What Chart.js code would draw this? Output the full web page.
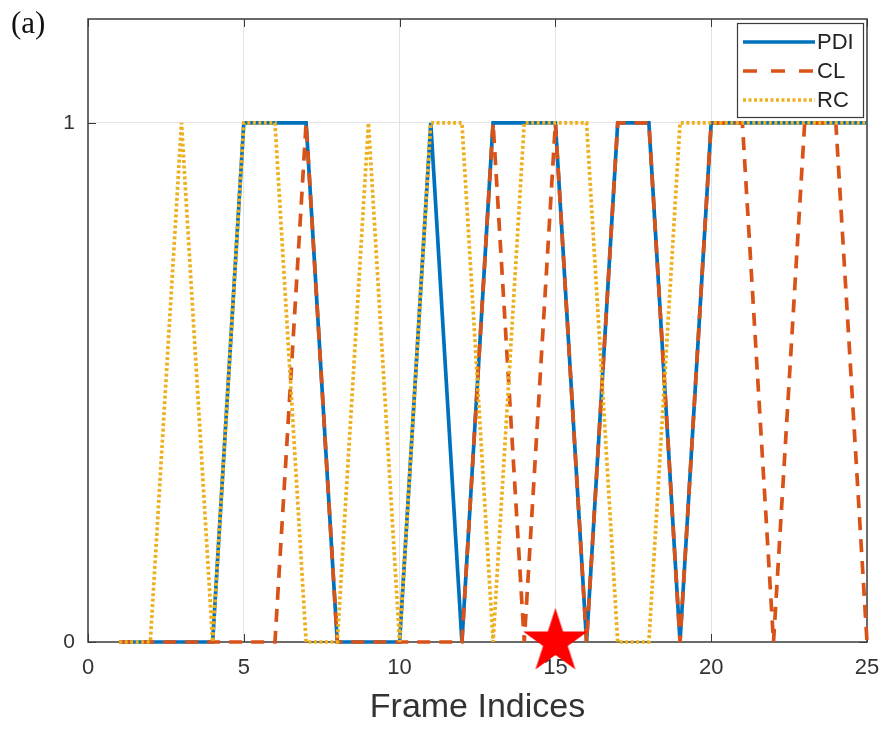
<!DOCTYPE html>
<html>
<head>
<meta charset="utf-8">
<script src="https://cdn.jsdelivr.net/npm/chart.js@4/dist/chart.umd.min.js"></script>
<style>
  html, body { margin: 0; padding: 0; background: #ffffff; }
  #wrap { width: 888px; height: 730px; }
</style>
</head>
<body>
<div id="wrap"><canvas id="c" width="888" height="730"></canvas></div>
<script>
// ---- data ----
const FRAMES = [1,2,3,4,5,6,7,8,9,10,11,12,13,14,15,16,17,18,19,20,21,22,23,24,25];
const PDI = [0,0,0,0,1,1,1,0,0,0,1,0,1,1,1,0,1,1,0,1,1,1,1,1,1];
const CL  = [0,0,0,0,0,0,1,0,0,0,0,0,1,0,1,0,1,1,0,1,1,0,1,1,0];
const RC  = [0,0,1,0,1,1,0,0,1,0,1,1,0,1,1,1,0,0,1,1,1,1,1,1,1];
const SERIES_NAMES = ['PDI', 'CL', 'RC'];
const STAR_X = [15];
const STAR_Y = [0];
const X_TICKS = [0, 5, 10, 15, 20, 25];
const Y_TICKS = [0, 1];
const X_TITLE = 'Frame Indices';
const PANEL_LABEL = '(a)';

const toPts = (ys) => FRAMES.map((f, i) => ({ x: f, y: ys[i] }));

// star marker image
function makeStar(r, color) {
  const c = document.createElement('canvas');
  c.width = Math.ceil(r * 2 + 2);
  c.height = Math.ceil(r * 2 + 2);
  const g = c.getContext('2d');
  const cx = c.width / 2, cy = c.height / 2, ri = r * 0.382;
  g.beginPath();
  for (let k = 0; k < 10; k++) {
    const rad = (k % 2 === 0) ? r : ri;
    const a = -Math.PI / 2 + k * Math.PI / 5;
    const px = cx + rad * Math.cos(a), py = cy + rad * Math.sin(a);
    if (k === 0) g.moveTo(px, py); else g.lineTo(px, py);
  }
  g.closePath();
  g.fillStyle = color;
  g.fill();
  return c;
}
const starImg = makeStar(34, '#ff0000');

const AXIS_COLOR = '#3a3a3a';
const TEXT_COLOR = '#333333';
const FONT = '"Liberation Sans", Arial, Helvetica, sans-serif';

const lineBase = { showLine: true, pointRadius: 0, pointHoverRadius: 0, fill: false, tension: 0, clip: false, borderCapStyle: 'butt' };

const datasets = [
  Object.assign({}, lineBase, { label: SERIES_NAMES[0], data: toPts(PDI), borderColor: '#0072BD', borderWidth: 3.7, borderDash: [], order: 3 }),
  Object.assign({}, lineBase, { label: SERIES_NAMES[1], data: toPts(CL), borderColor: '#D95319', borderWidth: 3.7, borderDash: [13, 9], order: 2 }),
  Object.assign({}, lineBase, { label: SERIES_NAMES[2], data: toPts(RC), borderColor: '#EDB120', borderWidth: 3.7, borderDash: [3, 2.5], order: 1 }),
  { label: 'star', data: STAR_X.map((x, i) => ({ x, y: STAR_Y[i] })), showLine: false, pointStyle: starImg, pointRadius: 34, pointHoverRadius: 34, clip: false, order: 0, borderColor: '#ff0000', backgroundColor: '#ff0000' }
];

const zeroPad = (s) => { s.paddingTop = 0; s.paddingBottom = 0; s.paddingLeft = 0; s.paddingRight = 0; };

const framePlugin = {
  id: 'frame',
  beforeDatasetsDraw(chart) {
    const { ctx, chartArea: a, scales } = chart;
    ctx.save();
    ctx.strokeStyle = AXIS_COLOR;
    ctx.lineWidth = 1.5;
    ctx.strokeRect(a.left, a.top, a.right - a.left, a.bottom - a.top);
    ctx.lineWidth = 1;
    const tl = 8;
    X_TICKS.forEach(v => {
      const px = Math.round(scales.x.getPixelForValue(v)) + 0.5;
      ctx.beginPath();
      ctx.moveTo(px, a.bottom); ctx.lineTo(px, a.bottom - tl);
      ctx.moveTo(px, a.top); ctx.lineTo(px, a.top + tl);
      ctx.stroke();
    });
    Y_TICKS.forEach(v => {
      const py = Math.round(scales.y.getPixelForValue(v)) + 0.5;
      ctx.beginPath();
      ctx.moveTo(a.left, py); ctx.lineTo(a.left + tl, py);
      ctx.moveTo(a.right, py); ctx.lineTo(a.right - tl, py);
      ctx.stroke();
    });
    ctx.restore();
  },
  afterDraw(chart) {
    const { ctx } = chart;
    ctx.save();
    // panel label
    ctx.fillStyle = '#111111';
    ctx.font = '31px "Liberation Serif", "Times New Roman", serif';
    ctx.textBaseline = 'alphabetic';
    ctx.textAlign = 'left';
    ctx.fillText(PANEL_LABEL, 11, 33);
    // legend box
    const bx = 737, by = 23, bw = 126, bh = 94;
    ctx.fillStyle = '#ffffff';
    ctx.fillRect(bx, by, bw, bh);
    ctx.strokeStyle = AXIS_COLOR;
    ctx.lineWidth = 1.2;
    ctx.strokeRect(bx + 0.5, by + 0.5, bw, bh);
    const rows = [42, 71, 100];
    ctx.font = '22px ' + FONT;
    ctx.textBaseline = 'middle';
    SERIES_NAMES.forEach((name, i) => {
      const ds = chart.data.datasets[i];
      ctx.save();
      ctx.strokeStyle = ds.borderColor;
      ctx.lineWidth = ds.borderWidth;
      ctx.setLineDash(i === 1 ? [14, 14] : ds.borderDash);
      ctx.beginPath();
      ctx.moveTo(743, rows[i]);
      ctx.lineTo(815, rows[i]);
      ctx.stroke();
      ctx.restore();
      ctx.fillStyle = '#222222';
      ctx.fillText(name, 817, rows[i] + 1);
    });
    ctx.restore();
  }
};

new Chart(document.getElementById('c'), {
  type: 'scatter',
  data: { datasets },
  options: {
    responsive: false,
    animation: false,
    events: [],
    layout: { autoPadding: false, padding: { left: 0, top: 19, right: 21, bottom: 0 } },
    plugins: { legend: { display: false }, tooltip: { enabled: false } },
    scales: {
      x: {
        type: 'linear', min: 0, max: 25,
        afterBuildTicks: (s) => { s.ticks = X_TICKS.map(v => ({ value: v })); },
        afterFit: (s) => { s.height = 88; zeroPad(s); },
        border: { display: false },
        grid: { drawTicks: false, lineWidth: 1, color: (c) => (c.tick && c.tick.value > 0 && c.tick.value < 25) ? '#e3e3e3' : 'rgba(0,0,0,0)' },
        ticks: { padding: 13, color: TEXT_COLOR, font: { family: FONT, size: 22 }, maxRotation: 0, autoSkip: false },
        title: { display: true, text: X_TITLE, color: TEXT_COLOR, font: { family: FONT, size: 34 }, padding: { top: 0, bottom: 2 } }
      },
      y: {
        type: 'linear', min: 0, max: 1.2,
        afterBuildTicks: (s) => { s.ticks = Y_TICKS.map(v => ({ value: v })); },
        afterFit: (s) => { s.width = 88; zeroPad(s); },
        border: { display: false },
        grid: { drawTicks: false, lineWidth: 1, color: (c) => (c.tick && c.tick.value === 1) ? '#e3e3e3' : 'rgba(0,0,0,0)' },
        ticks: { padding: 13, color: TEXT_COLOR, font: { family: FONT, size: 21 } }
      }
    }
  },
  plugins: [framePlugin]
});
</script>
</body>
</html>
